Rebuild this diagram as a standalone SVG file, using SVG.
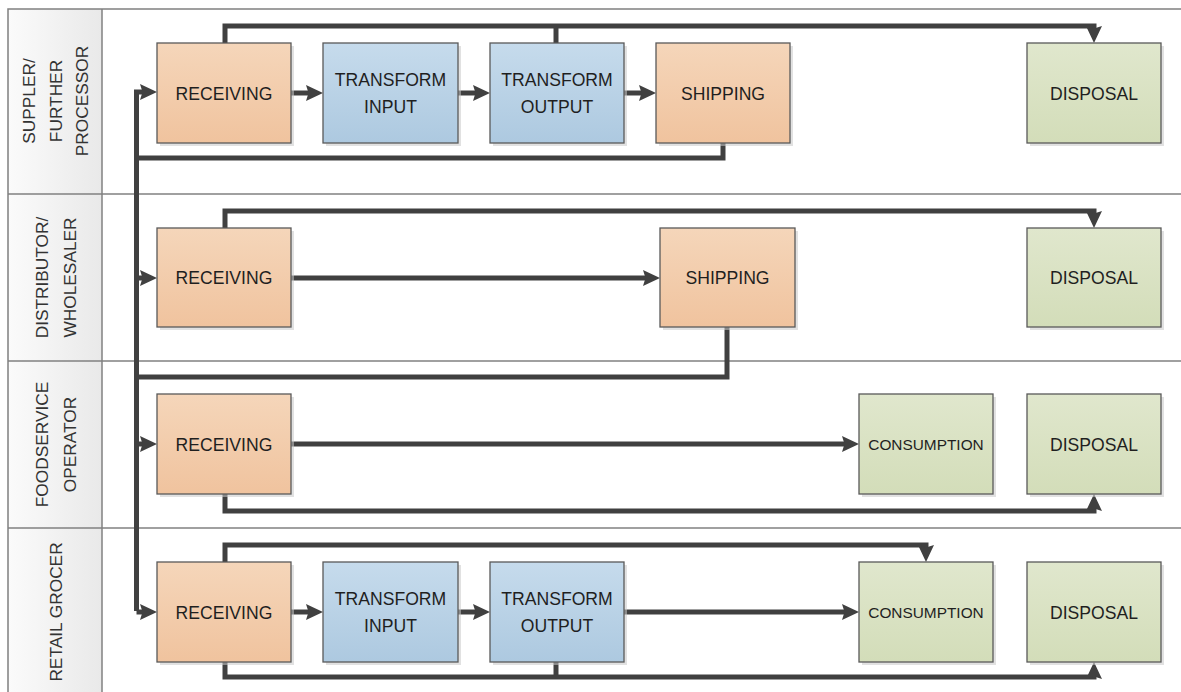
<svg xmlns="http://www.w3.org/2000/svg" width="1181" height="692" viewBox="0 0 1181 692">
<style>
.lane{fill:none;stroke:#808080;stroke-width:1.5}
.lbl{font-family:"Liberation Sans",Arial,sans-serif;font-size:17.3px;fill:#333;text-anchor:middle}
.box{stroke:#595959;stroke-width:1.3}
.sh{fill:#c8c8c8;opacity:0.55}
.t{font-family:"Liberation Sans",Arial,sans-serif;font-size:17.6px;fill:#1f1f1f;text-anchor:middle}
.ts{font-size:15.4px}
.c{fill:none;stroke:#404040;stroke-width:5}
.a{marker-end:url(#ah)}
</style>
<defs>
<linearGradient id="gOr" x1="0" y1="0" x2="0" y2="1"><stop offset="0" stop-color="#f5d6ba"/><stop offset="1" stop-color="#f0c39e"/></linearGradient>
<linearGradient id="gBl" x1="0" y1="0" x2="0" y2="1"><stop offset="0" stop-color="#c6dbec"/><stop offset="1" stop-color="#adc9e0"/></linearGradient>
<linearGradient id="gGr" x1="0" y1="0" x2="0" y2="1"><stop offset="0" stop-color="#e0e7cd"/><stop offset="1" stop-color="#d3ddb9"/></linearGradient>
<linearGradient id="gLab" x1="0" y1="0" x2="1" y2="0"><stop offset="0" stop-color="#fbfbfb"/><stop offset="1" stop-color="#e9e9e9"/></linearGradient>
<marker id="ah" markerUnits="userSpaceOnUse" viewBox="0 0 17 16" refX="7" refY="8" markerWidth="17" markerHeight="16" orient="auto">
<path d="M0,0 L17,8 L0,16 L2.5,8 Z" fill="#404040"/>
</marker>
</defs>

<g id="lanes">
<rect x="8" y="9" width="94" height="690" fill="url(#gLab)"/>
<rect x="8" y="9" width="1180" height="690" class="lane"/>
<line x1="102" y1="9" x2="102" y2="699" class="lane"/>
<line x1="8" y1="194" x2="1188" y2="194" class="lane"/>
<line x1="8" y1="361" x2="1188" y2="361" class="lane"/>
<line x1="8" y1="528" x2="1188" y2="528" class="lane"/>
<text class="lbl" transform="translate(35,101) rotate(-90)">SUPPLER/</text>
<text class="lbl" transform="translate(61.5,101) rotate(-90)">FURTHER</text>
<text class="lbl" transform="translate(88,101) rotate(-90)">PROCESSOR</text>
<text class="lbl" transform="translate(48,277.5) rotate(-90)">DISTRIBUTOR/</text>
<text class="lbl" transform="translate(75.5,277.5) rotate(-90)">WHOLESALER</text>
<text class="lbl" transform="translate(48,444.5) rotate(-90)">FOODSERVICE</text>
<text class="lbl" transform="translate(75.5,444.5) rotate(-90)">OPERATOR</text>
<text class="lbl" transform="translate(61.5,612) rotate(-90)">RETAIL GROCER</text>
</g>

<g id="connectors">
<!-- trunk -->
<path class="c a" d="M136.5,611 V92 H147"/>
<path class="c" d="M723,143 V158 H136.5"/>
<path class="c" d="M727,327 V377 H136.5"/>
<path class="c a" d="M136.5,278 H147"/>
<path class="c a" d="M136.5,444 H147"/>
<path class="c a" d="M136.5,612 H147"/>
<!-- row 1 -->
<path class="c a" d="M291,93 H313"/>
<path class="c a" d="M458,93 H480"/>
<path class="c a" d="M624,93 H646"/>
<path class="c a" d="M225,43 V26 H1094 V33"/>
<path class="c" d="M556,43 V26"/>
<!-- row 2 -->
<path class="c a" d="M291,278 H650"/>
<path class="c a" d="M225,228 V211 H1094 V218"/>
<!-- row 3 -->
<path class="c a" d="M291,444 H849"/>
<path class="c a" d="M225,494 V511 H1094 V504"/>
<!-- row 4 -->
<path class="c a" d="M291,612 H313"/>
<path class="c a" d="M458,612 H480"/>
<path class="c a" d="M624,612 H849"/>
<path class="c a" d="M225,562 V545 H926 V552"/>
<path class="c a" d="M225,662 V677 H1094 V672"/>
<path class="c" d="M556,662 V677"/>
</g>

<g id="n1-receiving"><rect class="sh" x="160" y="46" width="134" height="100"/><rect class="box" x="157" y="43" width="134" height="100" fill="url(#gOr)"/><text class="t" x="224" y="99.5">RECEIVING</text></g>
<g id="n1-transform-input"><rect class="sh" x="326" y="46" width="135" height="100"/><rect class="box" x="323" y="43" width="135" height="100" fill="url(#gBl)"/><text class="t" x="390.5" y="85.5">TRANSFORM</text><text class="t" x="390.5" y="113">INPUT</text></g>
<g id="n1-transform-output"><rect class="sh" x="493" y="46" width="134" height="100"/><rect class="box" x="490" y="43" width="134" height="100" fill="url(#gBl)"/><text class="t" x="557" y="85.5">TRANSFORM</text><text class="t" x="557" y="113">OUTPUT</text></g>
<g id="n1-shipping"><rect class="sh" x="659" y="46" width="134" height="100"/><rect class="box" x="656" y="43" width="134" height="100" fill="url(#gOr)"/><text class="t" x="723" y="99.5">SHIPPING</text></g>
<g id="n1-disposal"><rect class="sh" x="1030" y="46" width="134" height="100"/><rect class="box" x="1027" y="43" width="134" height="100" fill="url(#gGr)"/><text class="t" x="1094" y="99.5">DISPOSAL</text></g>

<g id="n2-receiving"><rect class="sh" x="160" y="231" width="134" height="99"/><rect class="box" x="157" y="228" width="134" height="99" fill="url(#gOr)"/><text class="t" x="224" y="284">RECEIVING</text></g>
<g id="n2-shipping"><rect class="sh" x="663" y="231" width="135" height="99"/><rect class="box" x="660" y="228" width="135" height="99" fill="url(#gOr)"/><text class="t" x="727.5" y="284">SHIPPING</text></g>
<g id="n2-disposal"><rect class="sh" x="1030" y="231" width="134" height="99"/><rect class="box" x="1027" y="228" width="134" height="99" fill="url(#gGr)"/><text class="t" x="1094" y="284">DISPOSAL</text></g>

<g id="n3-receiving"><rect class="sh" x="160" y="397" width="134" height="100"/><rect class="box" x="157" y="394" width="134" height="100" fill="url(#gOr)"/><text class="t" x="224" y="450.5">RECEIVING</text></g>
<g id="n3-consumption"><rect class="sh" x="862" y="397" width="134" height="100"/><rect class="box" x="859" y="394" width="134" height="100" fill="url(#gGr)"/><text class="t ts" x="926" y="450">CONSUMPTION</text></g>
<g id="n3-disposal"><rect class="sh" x="1030" y="397" width="134" height="100"/><rect class="box" x="1027" y="394" width="134" height="100" fill="url(#gGr)"/><text class="t" x="1094" y="450.5">DISPOSAL</text></g>

<g id="n4-receiving"><rect class="sh" x="160" y="565" width="134" height="100"/><rect class="box" x="157" y="562" width="134" height="100" fill="url(#gOr)"/><text class="t" x="224" y="618.5">RECEIVING</text></g>
<g id="n4-transform-input"><rect class="sh" x="326" y="565" width="135" height="100"/><rect class="box" x="323" y="562" width="135" height="100" fill="url(#gBl)"/><text class="t" x="390.5" y="604.5">TRANSFORM</text><text class="t" x="390.5" y="632">INPUT</text></g>
<g id="n4-transform-output"><rect class="sh" x="493" y="565" width="134" height="100"/><rect class="box" x="490" y="562" width="134" height="100" fill="url(#gBl)"/><text class="t" x="557" y="604.5">TRANSFORM</text><text class="t" x="557" y="632">OUTPUT</text></g>
<g id="n4-consumption"><rect class="sh" x="862" y="565" width="134" height="100"/><rect class="box" x="859" y="562" width="134" height="100" fill="url(#gGr)"/><text class="t ts" x="926" y="618">CONSUMPTION</text></g>
<g id="n4-disposal"><rect class="sh" x="1030" y="565" width="134" height="100"/><rect class="box" x="1027" y="562" width="134" height="100" fill="url(#gGr)"/><text class="t" x="1094" y="618.5">DISPOSAL</text></g>
</svg>
